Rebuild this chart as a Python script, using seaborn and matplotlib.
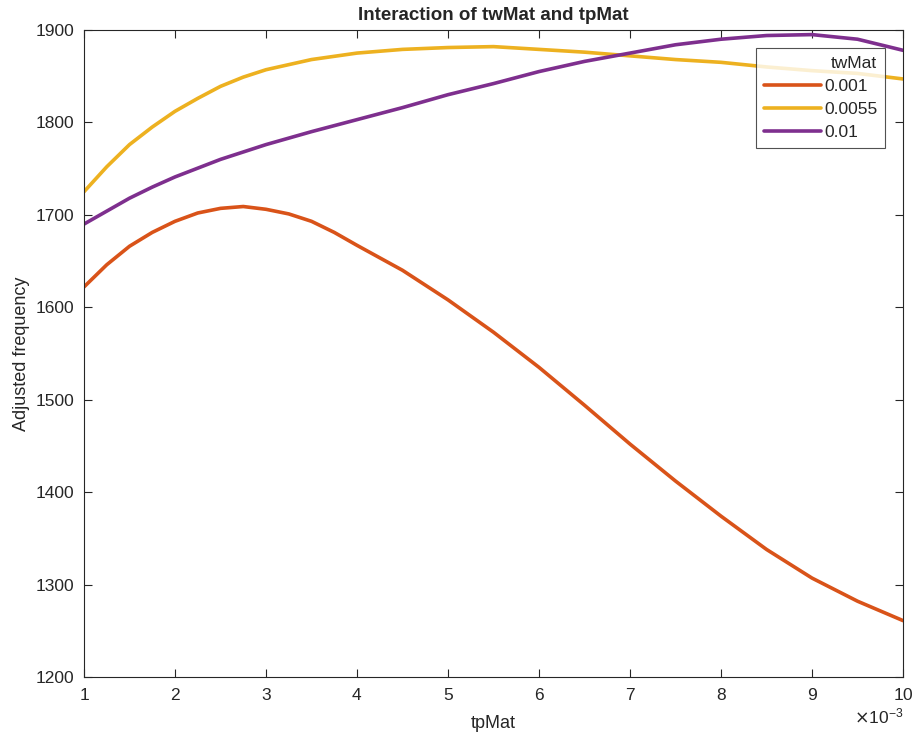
import numpy as np
import pandas as pd
import seaborn as sns
import matplotlib
matplotlib.use("Agg")
import matplotlib.pyplot as plt
from matplotlib.ticker import ScalarFormatter

# tpMat values (x10^-3) and adjusted frequency
tp_0001 = [1, 1.25, 1.5, 1.75, 2, 2.25, 2.5, 2.75, 3, 3.25, 3.5, 3.75, 4, 4.5,
           5, 5.5, 6, 6.5, 7, 7.5, 8, 8.5, 9, 9.5, 10]
freq_0001 = [1622, 1646, 1666, 1681, 1693, 1702, 1707, 1709, 1706, 1701, 1693,
             1681, 1667, 1640, 1608, 1573, 1535, 1494, 1452, 1412, 1374, 1338,
             1307, 1282, 1261]

tp_00055 = [1, 1.25, 1.5, 1.75, 2, 2.25, 2.5, 2.75, 3, 3.5, 4, 4.5, 5, 5.5, 6,
            6.5, 7, 7.5, 8, 8.5, 9, 9.5, 10]
freq_00055 = [1725, 1752, 1776, 1795, 1812, 1826, 1839, 1849, 1857, 1868, 1875,
              1879, 1881, 1882, 1879, 1876, 1872, 1868, 1865, 1860, 1856, 1853, 1847]

tp_001 = [1, 1.25, 1.5, 1.75, 2, 2.5, 3, 3.5, 4, 4.5, 5, 5.5, 6, 6.5, 7, 7.5,
          8, 8.5, 9, 9.5, 10]
freq_001 = [1690, 1704, 1718, 1730, 1741, 1760, 1776, 1790, 1803, 1816, 1830,
            1842, 1855, 1866, 1875, 1884, 1890, 1894, 1895, 1890, 1878]

tw_labels = ["0.001", "0.0055", "0.01"]
colors = ["#D95319", "#EDB120", "#7E2F8E"]

frames = []
for lab, xs, ys in zip(tw_labels, [tp_0001, tp_00055, tp_001],
                       [freq_0001, freq_00055, freq_001]):
    frames.append(pd.DataFrame({"tpMat": np.array(xs) * 1e-3, "freq": ys, "twMat": lab}))
df = pd.concat(frames, ignore_index=True)

sns.set_style("ticks")
plt.rcParams["font.family"] = ["Liberation Sans", "DejaVu Sans"]
plt.rcParams["axes.edgecolor"] = "#262626"
plt.rcParams["xtick.color"] = "#262626"
plt.rcParams["ytick.color"] = "#262626"

fig = plt.figure(figsize=(9.18, 7.42), dpi=100)
ax = fig.add_axes([0.0915, 0.0876, 0.8922, 0.872])

sns.lineplot(data=df, x="tpMat", y="freq", hue="twMat", hue_order=tw_labels,
             palette=colors, linewidth=2.6, sort=True, ax=ax)

ax.set_xlim(0.001, 0.01)
ax.set_ylim(1200, 1900)
ax.set_xticks(np.arange(1, 11) * 1e-3)
ax.set_yticks(np.arange(1200, 1901, 100))
fmt = ScalarFormatter(useMathText=True)
fmt.set_powerlimits((-3, -3))
ax.xaxis.set_major_formatter(fmt)
ax.xaxis.get_offset_text().set_fontsize(12.5)
ax.xaxis.get_offset_text().set_color("#262626")

ax.tick_params(direction="in", top=True, right=True, labelsize=12.5, length=6, width=0.8)
ax.tick_params(axis="x", pad=7)
ax.tick_params(axis="y", pad=7)
for s in ax.spines.values():
    s.set_visible(True)
    s.set_linewidth(0.8)

ax.set_xlabel("tpMat", fontsize=13, color="#262626", labelpad=9)
ax.set_ylabel("Adjusted frequency", fontsize=13, color="#262626", labelpad=4)
ax.set_title("Interaction of twMat and tpMat", fontsize=13.5, fontweight="bold", pad=7)

leg = ax.legend(title="twMat", loc="upper right", bbox_to_anchor=(0.978, 0.972),
                borderaxespad=0, fontsize=12.5, title_fontsize=12.5, frameon=True,
                fancybox=False, edgecolor="#262626", handlelength=3.3,
                borderpad=0.45, labelspacing=0.45, handletextpad=0.15)
leg.get_frame().set_linewidth(0.8)
leg._legend_box.align = "right"

fig.savefig("out.png", dpi=100)
